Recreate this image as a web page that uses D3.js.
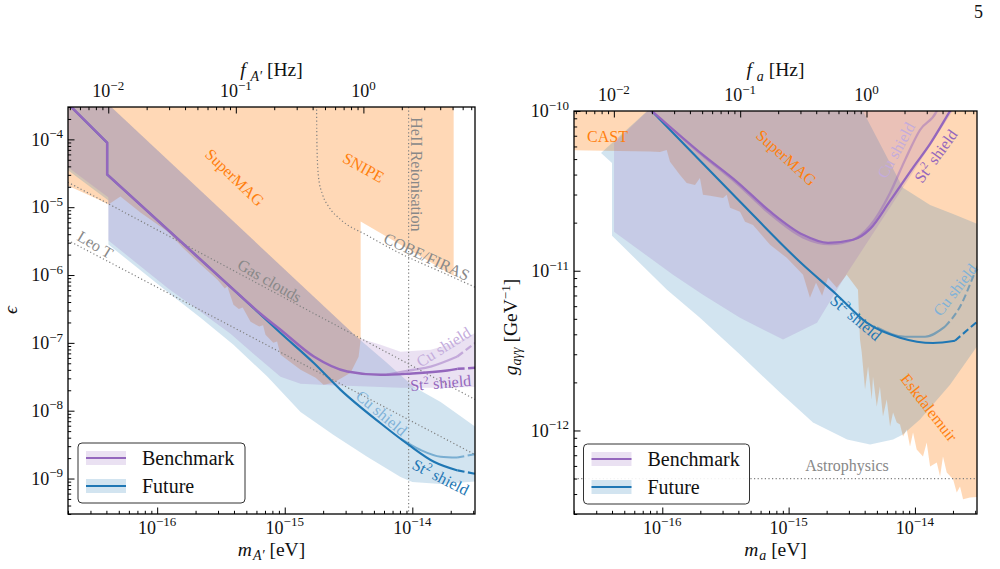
<!DOCTYPE html>
<html><head><meta charset="utf-8">
<script src="https://cdn.jsdelivr.net/npm/d3@7/dist/d3.min.js"></script>
<style>
html,body{margin:0;padding:0;background:#fff;}
svg{display:block;font-family:"Liberation Serif","DejaVu Serif",serif;}
</style></head>
<body><svg id="fig" width="1000" height="569"></svg>
<script>
// ---------------- DATA ----------------
const PLANCK_EV_S = 4.135667e-15;          // m [eV] = h f
const massDomain = [2e-17, 3.1e-14];
const epsDomain  = [3e-10, 3e-4];
const gDomain    = [3e-13, 1e-10];
const legendLabels = ["Benchmark", "Future"];

// Left panel (dark photon). Points: [log10(m/eV), log10(eps)]
const dpSt2Head = [[-16.68,-3.51],[-16.392,-4.049],[-16.392,-4.517],[-15.373,-6.264]];
const dpBenchmarkSt2 = [[-15.373,-6.264],[-15.190,-6.570],[-15.033,-6.806],[-14.772,-7.201],[-14.510,-7.422],[-14.249,-7.471],[-14.039,-7.456],[-13.725,-7.408],[-13.645,-7.383],[-13.45,-7.36]];
const dpFutureSt2 = [[-15.373,-6.264],[-15.033,-6.855],[-14.772,-7.298],[-14.562,-7.693],[-14.249,-8.185],[-14.027,-8.505],[-13.831,-8.752],[-13.645,-8.880],[-13.45,-8.95]];
const dpBenchmarkCu = [[-14.20,-7.467],[-14.0,-7.40],[-13.856,-7.349],[-13.647,-7.201],[-13.45,-6.92]];
const dpFutureCu = [[-14.092,-8.411],[-13.935,-8.579],[-13.778,-8.678],[-13.647,-8.690],[-13.45,-8.62]];
const dpConstraints = [[-16.8,-3.4],[-13.676,-3.4],[-13.676,-6.009],[-14.405,-5.211],[-14.405,-6.954],[-14.421,-7.205],[-14.484,-7.442],[-14.617,-7.589],[-14.696,-7.619],[-14.758,-7.516],[-14.876,-7.398],[-15.033,-7.176],[-15.06,-6.98],[-15.09,-7.00],[-15.151,-6.880],[-15.17,-6.74],[-15.20,-6.76],[-15.268,-6.688],[-15.33,-6.48],[-15.36,-6.50],[-15.402,-6.437],[-15.45,-6.17],[-15.47,-6.20],[-15.527,-6.068],[-15.660,-5.846],[-15.801,-5.595],[-15.919,-5.359],[-16.131,-5.078],[-16.288,-4.842],[-16.382,-4.960],[-16.460,-4.886],[-16.8,-4.60]];
const dpBenchmarkBand = [[-16.8,-3.4],[-16.43,-3.4],[-14.429,-6.925],[-14.249,-7.028],[-14.092,-7.131],[-13.856,-7.102],[-13.660,-6.999],[-13.503,-6.851],[-13.4,-6.78],[-13.4,-7.648],[-13.778,-7.663],[-14.092,-7.663],[-14.405,-7.641],[-14.641,-7.626],[-14.876,-7.604],[-15.033,-7.501],[-15.190,-7.250],[-15.425,-6.866],[-15.660,-6.541],[-15.911,-6.201],[-16.382,-5.492],[-16.382,-4.857],[-16.445,-4.768],[-16.696,-4.414],[-16.8,-4.30]];
const dpFutureBand = [[-16.8,-3.4],[-16.43,-3.4],[-14.429,-6.925],[-14.209,-7.279],[-13.990,-7.648],[-13.778,-7.870],[-13.503,-8.239],[-13.4,-8.33],[-13.4,-9.03],[-13.778,-9.081],[-14.0,-9.052],[-14.092,-8.978],[-14.351,-8.683],[-14.617,-8.358],[-14.876,-8.018],[-15.135,-7.501],[-15.402,-7.028],[-15.660,-6.629],[-15.911,-6.260],[-16.382,-5.551],[-16.382,-4.901],[-16.445,-4.812],[-16.696,-4.458],[-16.8,-4.32]];
const dpGasClouds = [[-16.8,-4.531],[-13.4,-7.943]];
const dpLeoT = [[-16.8,-5.389],[-13.4,-8.755]];
const dpCobeFiras = [[-14.751,-3.4],[-14.747,-4.148],[-14.735,-4.561],[-14.704,-4.812],[-14.656,-4.990],[-14.562,-5.182],[-14.351,-5.418],[-14.092,-5.684],[-13.778,-5.950],[-13.4,-6.27]];
const dpHeIIMass = -14.029;

// Right panel (axion). Points: [log10(m/eV), log10(g/GeV^-1)]
const axBenchmarkSt2 = [[-16.15,-9.955],[-16.084,-10.0],[-15.678,-10.275],[-15.411,-10.442],[-15.147,-10.629],[-14.886,-10.775],[-14.688,-10.825],[-14.490,-10.806],[-14.355,-10.738],[-14.197,-10.563],[-14.015,-10.354],[-13.880,-10.206],[-13.722,-10.0],[-13.68,-9.945]];
const axBenchmarkCu = [[-16.15,-9.955],[-16.084,-10.0],[-15.678,-10.281],[-15.411,-10.453],[-15.147,-10.644],[-14.886,-10.791],[-14.672,-10.834],[-14.490,-10.806],[-14.355,-10.719],[-14.197,-10.513],[-14.078,-10.306],[-13.960,-10.119],[-13.827,-10.0],[-13.80,-9.95]];
const axFutureSt2 = [[-16.15,-9.946],[-16.084,-10.0],[-15.411,-10.546],[-14.886,-10.963],[-14.619,-11.15],[-14.382,-11.325],[-14.118,-11.419],[-13.857,-11.452],[-13.683,-11.438],[-13.45,-11.28]];
const axFutureCu = [[-14.30,-11.355],[-14.078,-11.413],[-13.920,-11.413],[-13.762,-11.35],[-13.643,-11.225],[-13.509,-10.981],[-13.45,-10.88]];
const axConstraints = [[-16.8,-9.9],[-13.4,-9.9],[-13.4,-12.4125],[-13.564,-12.419],[-13.619,-12.431],[-13.643,-12.35],[-13.669,-12.388],[-13.698,-12.306],[-13.748,-12.263],[-13.778,-12.163],[-13.801,-12.288],[-13.827,-12.2],[-13.880,-12.225],[-13.907,-12.075],[-13.936,-12.163],[-13.986,-12.119],[-14.015,-12.013],[-14.039,-12.1],[-14.065,-11.994],[-14.094,-12.038],[-14.118,-11.963],[-14.144,-11.95],[-14.173,-11.888],[-14.197,-11.975],[-14.223,-11.806],[-14.253,-11.913],[-14.277,-11.725],[-14.302,-11.85],[-14.332,-11.663],[-14.342,-11.806],[-14.371,-11.6],[-14.395,-11.744],[-14.421,-11.513],[-14.435,-11.431],[-14.451,-11.119],[-14.540,-11.025],[-14.619,-11.106],[-14.688,-11.044],[-14.735,-11.156],[-14.783,-11.075],[-14.831,-11.169],[-14.886,-11.025],[-15.015,-10.919],[-15.147,-10.838],[-15.282,-10.713],[-15.345,-10.694],[-15.385,-10.631],[-15.464,-10.606],[-15.490,-10.525],[-15.519,-10.544],[-15.622,-10.531],[-15.678,-10.525],[-15.702,-10.419],[-15.741,-10.463],[-15.807,-10.45],[-15.860,-10.4],[-15.939,-10.317],[-15.965,-10.244],[-16.018,-10.256],[-16.097,-10.254],[-16.8,-10.244]];
const axBenchmarkBand = [[-16.05,-9.95],[-13.66,-9.95],[-14.095,-10.481],[-14.545,-11.025],[-14.775,-11.325],[-15.044,-11.431],[-15.385,-11.294],[-15.678,-11.15],[-15.915,-11.025],[-16.382,-10.756],[-16.382,-10.2]];
const axFutureBand = [[-16.05,-9.95],[-14.445,-9.95],[-14.095,-10.481],[-13.880,-10.588],[-13.683,-10.65],[-13.509,-10.706],[-13.509,-11.475],[-13.722,-11.713],[-13.960,-11.931],[-14.095,-12.025],[-14.173,-12.056],[-14.355,-12.088],[-14.537,-12.056],[-14.807,-11.95],[-15.068,-11.763],[-15.385,-11.525],[-15.702,-11.294],[-15.963,-11.119],[-16.398,-10.781],[-16.398,-10.325],[-16.485,-10.263]];
const axAstrophysicsG = 5e-13;

// annotations: text, anchor in data coords [log10 m, log10 y]
const dpNotes = [
  {t:"SuperMAG", at:[-15.392,-4.561], rot:44, k:"con"},
  {t:"SNIPE", at:[-14.382,-4.414], rot:29, k:"con"},
  {t:"HeII Reionisation", at:[-14.013,-3.675], rot:90, k:"dot", anchor:"start"},
  {t:"COBE/FIRAS", at:[-13.886,-5.728], rot:25, k:"dot"},
  {t:"Gas clouds", at:[-15.118,-6.083], rot:30, k:"dot"},
  {t:"Leo T", at:[-16.484,-5.551], rot:31, k:"dot"},
  {t:"Cu shield", at:[-13.755,-7.058], rot:-32, k:"bcu"},
  {t:"St2", at:[-13.778,-7.589], rot:-5, k:"bst"},
  {t:"Cu shield", at:[-14.241,-8.033], rot:40, k:"fcu"},
  {t:"St2", at:[-13.778,-8.978], rot:27, k:"fst"}
];
const axNotes = [
  {t:"CAST", at:[-16.434,-10.159], rot:0, k:"con"},
  {t:"SuperMAG", at:[-15.017,-10.291], rot:42, k:"con"},
  {t:"Eskdalemuir", at:[-13.888,-11.856], rot:52, k:"con"},
  {t:"Cu shield", at:[-14.15,-10.245], rot:-61, k:"bcu"},
  {t:"St2", at:[-13.835,-10.281], rot:-54, k:"bst"},
  {t:"St2", at:[-14.467,-11.294], rot:40, k:"fst"},
  {t:"Cu shield", at:[-13.683,-11.119], rot:-52, k:"fcu"},
  {t:"Astrophysics", at:[-14.538,-12.219], rot:0, k:"dot"}
];

// ---------------- STYLE ----------------
const C = {orange:"#ff7f0e", blue:"#1f77b4", purple:"#9467bd", grey:"#808080",
  con:"#ff7f0e", dot:"#888888", bcu:"#c4acdc", bst:"#9467bd", fcu:"#7fb2d8", fst:"#1f77b4"};

const svg = d3.select("#fig");
const defs = svg.append("defs");

function panel(cfg){
  const {id, box, yDomain} = cfg;
  const x = d3.scaleLog().domain(massDomain).range([box.x0, box.x1]);
  const y = d3.scaleLog().domain(yDomain).range([box.y1, box.y0]);
  const xf = d3.scaleLog().domain(massDomain.map(m=>m/PLANCK_EV_S)).range([box.x0, box.x1]);
  const P = pts => pts.map(([a,b]) => [x(Math.pow(10,a)), y(Math.pow(10,b))]);

  defs.append("clipPath").attr("id","clip"+id).append("rect")
    .attr("x",box.x0).attr("y",box.y0).attr("width",box.x1-box.x0).attr("height",box.y1-box.y0);
  const g = svg.append("g").attr("clip-path",`url(#clip${id})`);

  // fills
  const area = d3.line().curve(d3.curveLinearClosed);
  g.append("path").attr("d", area(P(cfg.constraints))).attr("fill",C.orange).attr("fill-opacity",0.3);
  g.append("path").attr("d", area(P(cfg.futureBand))).attr("fill",C.blue).attr("fill-opacity",0.2);
  g.append("path").attr("d", area(P(cfg.benchBand))).attr("fill",C.purple).attr("fill-opacity",0.2);

  // dotted lines
  const lin = d3.line();
  const mono = d3.line().curve(d3.curveMonotoneX);
  const dotted = sel => sel.attr("fill","none").attr("stroke",C.grey).attr("stroke-width",1.2).attr("stroke-dasharray","1.2,2.4");
  (cfg.dottedLines||[]).forEach(d => g.append("path").attr("d", (d.curve==="mono"?mono:lin)(P(d.pts))).call(dotted));
  if (cfg.vline!==undefined) {
    const xv = x(Math.pow(10,cfg.vline));
    g.append("path").attr("d", lin([[xv,box.y0],[xv,box.y1]])).call(dotted);
  }
  if (cfg.hline!==undefined) {
    const yv = y(cfg.hline);
    g.append("path").attr("d", lin([[box.x0,yv],[box.x1,yv]])).call(dotted);
  }

  // lines (solid + dashed tail)
  function drawLine(pts, dashFrom, color, width, opacity, gen){
    const solid = pts.filter(p => p[0] <= dashFrom + 1e-9);
    const dashed = pts.filter(p => p[0] >= dashFrom - 1e-9);
    g.append("path").attr("d", (gen||mono)(P(solid))).attr("fill","none").attr("stroke",color)
      .attr("stroke-width",width).attr("stroke-opacity",opacity).attr("stroke-linecap","butt");
    if (dashed.length>1) g.append("path").attr("d", (gen||mono)(P(dashed))).attr("fill","none").attr("stroke",color)
      .attr("stroke-width",width).attr("stroke-opacity",opacity).attr("stroke-dasharray","7,3.5");
  }
  cfg.lines.forEach(l => drawLine(l.pts, l.dashFrom===undefined?99:l.dashFrom, l.color, l.width, l.opacity, l.linear?lin:null));

  // annotations
  cfg.notes.forEach(n => {
    const [px,py] = P([n.at])[0];
    const t = svg.append("text").attr("transform",`translate(${px},${py}) rotate(${n.rot})`)
      .attr("text-anchor", n.anchor||"middle").attr("dy", n.anchor==="start" ? "0" : "0.35em")
      .attr("font-size",16).attr("fill",C[n.k]);
    if (n.t==="St2") {
      t.append("tspan").text("St");
      t.append("tspan").attr("font-size",11).attr("dy",-6).text("2");
      t.append("tspan").attr("dy",6).text(" shield");
    } else t.text(n.t);
  });

  // frame
  svg.append("rect").attr("x",box.x0).attr("y",box.y0).attr("width",box.x1-box.x0).attr("height",box.y1-box.y0)
    .attr("fill","none").attr("stroke","#000").attr("stroke-width",1.3);

  // axes ticks
  const isMajor = v => Math.abs(Math.log10(v) - Math.round(Math.log10(v))) < 1e-6;
  function ticks(axisFn, scale, transform){
    const all = scale.ticks();
    const maj = all.filter(isMajor), min = all.filter(v=>!isMajor(v));
    [[min,-3.2],[maj,-6.5]].forEach(([vals,sz]) => {
      const a = svg.append("g").attr("transform",transform)
        .call(axisFn(scale).tickValues(vals).tickSize(sz).tickFormat(""));
      a.select(".domain").remove();
      a.selectAll(".tick line").attr("stroke","#000").attr("stroke-width",1);
    });
    return maj;
  }
  const bx = ticks(d3.axisBottom, x, `translate(0,${box.y1})`);
  const ly = ticks(d3.axisLeft, y, `translate(${box.x0},0)`);
  const tx = ticks(d3.axisTop, xf, `translate(0,${box.y0})`);

  function pow(xp, yp, v, anchor){
    const e = Math.round(Math.log10(v));
    const t = svg.append("text").attr("x",xp).attr("y",yp).attr("text-anchor",anchor).attr("font-size",18).attr("fill","#111");
    t.append("tspan").text("10");
    t.append("tspan").attr("font-size",13).attr("dy",-7.5).text(e<0 ? "\u2212"+(-e) : String(e));
  }
  bx.forEach(v => pow(x(v), box.y1+19.5, v, "middle"));
  ly.forEach(v => pow(box.x0-5, y(v)+6.3, v, "end"));
  tx.forEach(v => pow(xf(v), box.y0-10, v, "middle"));

  // axis titles
  const cx = (box.x0+box.x1)/2;
  function title(xp, yp, parts, rot){
    const t = svg.append("text").attr("transform",`translate(${xp},${yp})${rot?" rotate(-90)":""}`)
      .attr("text-anchor","middle").attr("font-size",19.5).attr("fill","#111");
    parts.forEach(p => {
      const s = t.append("tspan").text(p.s);
      if (p.i) s.attr("font-style","italic");
      if (p.fs) s.attr("font-size",p.fs);
      if (p.dy) s.attr("dy",p.dy);
      if (p.dx) s.attr("dx",p.dx);
    });
  }
  title(cx, 556, cfg.xTitle);
  title(cx, 76, cfg.fTitle);
  title(cfg.yTitlePos[0], cfg.yTitlePos[1], cfg.yTitle, true);

  // legend
  const L = cfg.legend;
  svg.append("rect").attr("x",L.x).attr("y",L.y).attr("width",L.w).attr("height",L.h).attr("rx",4)
    .attr("fill","#fff").attr("fill-opacity",0.9).attr("stroke","#333").attr("stroke-width",1);
  [[C.purple,0],[C.blue,1]].forEach(([col,i]) => {
    const yc = L.y + 15 + i*28;
    svg.append("rect").attr("x",L.x+8).attr("y",yc-7).attr("width",40).attr("height",14)
      .attr("fill",col).attr("fill-opacity",0.2);
    svg.append("line").attr("x1",L.x+8).attr("x2",L.x+48).attr("y1",yc).attr("y2",yc)
      .attr("stroke",col).attr("stroke-width",2.2);
    svg.append("text").attr("x",L.x+64).attr("y",yc+7).attr("font-size",20).attr("fill","#111").text(legendLabels[i]);
  });
}

panel({
  id:"L", box:{x0:68,x1:475,y0:107,y1:514}, yDomain:epsDomain,
  constraints:dpConstraints, futureBand:dpFutureBand, benchBand:dpBenchmarkBand,
  dottedLines:[{pts:dpGasClouds},{pts:dpLeoT},{pts:dpCobeFiras,curve:"mono"}],
  vline:dpHeIIMass,
  lines:[
    {pts:dpSt2Head, color:C.blue, width:2, opacity:1, linear:true},
    {pts:dpFutureCu, dashFrom:-13.647, color:C.blue, width:2, opacity:0.5},
    {pts:dpFutureSt2, dashFrom:-13.645, color:C.blue, width:2.1, opacity:1},
    {pts:dpBenchmarkCu, dashFrom:-13.647, color:C.purple, width:2.3, opacity:0.45},
    {pts:dpSt2Head, color:C.purple, width:2.5, opacity:1, linear:true},
    {pts:dpBenchmarkSt2, dashFrom:-13.645, color:C.purple, width:2.5, opacity:1}
  ],
  notes:dpNotes,
  xTitle:[{s:"m",i:1},{s:"A\u2032",i:1,fs:14,dy:4,dx:1},{s:" [eV]",dy:-4}],
  fTitle:[{s:"f ",i:1},{s:"A\u2032",i:1,fs:14,dy:5},{s:" [Hz]",dy:-5}],
  yTitle:[{s:"\u03f5",i:1}], yTitlePos:[17,310],
  legend:{x:78,y:443,w:167,h:60}
});

panel({
  id:"R", box:{x0:574,x1:977,y0:111,y1:514}, yDomain:gDomain,
  constraints:axConstraints, futureBand:axFutureBand, benchBand:axBenchmarkBand,
  dottedLines:[], hline:axAstrophysicsG,
  lines:[
    {pts:axFutureCu, dashFrom:-13.762, color:C.blue, width:2, opacity:0.5},
    {pts:axFutureSt2, dashFrom:-13.683, color:C.blue, width:2.1, opacity:1},
    {pts:axBenchmarkCu, color:C.purple, width:2.3, opacity:0.45},
    {pts:axBenchmarkSt2, color:C.purple, width:2.3, opacity:1}
  ],
  notes:axNotes,
  xTitle:[{s:"m",i:1},{s:"a",i:1,fs:14,dy:4,dx:1},{s:" [eV]",dy:-4}],
  fTitle:[{s:"f ",i:1},{s:"a",i:1,fs:14,dy:5},{s:" [Hz]",dy:-5}],
  yTitle:[{s:"g",i:1},{s:"a\u03b3\u03b3",i:1,fs:14,dy:4},{s:" [GeV",dy:-4},{s:"\u22121",fs:13,dy:-7},{s:"]",dy:7}],
  yTitlePos:[517,327],
  legend:{x:583.5,y:444,w:166,h:60}
});

svg.append("text").attr("x",983).attr("y",18).attr("text-anchor","end").attr("font-size",18).attr("fill","#111").text("5");
</script></body></html>
